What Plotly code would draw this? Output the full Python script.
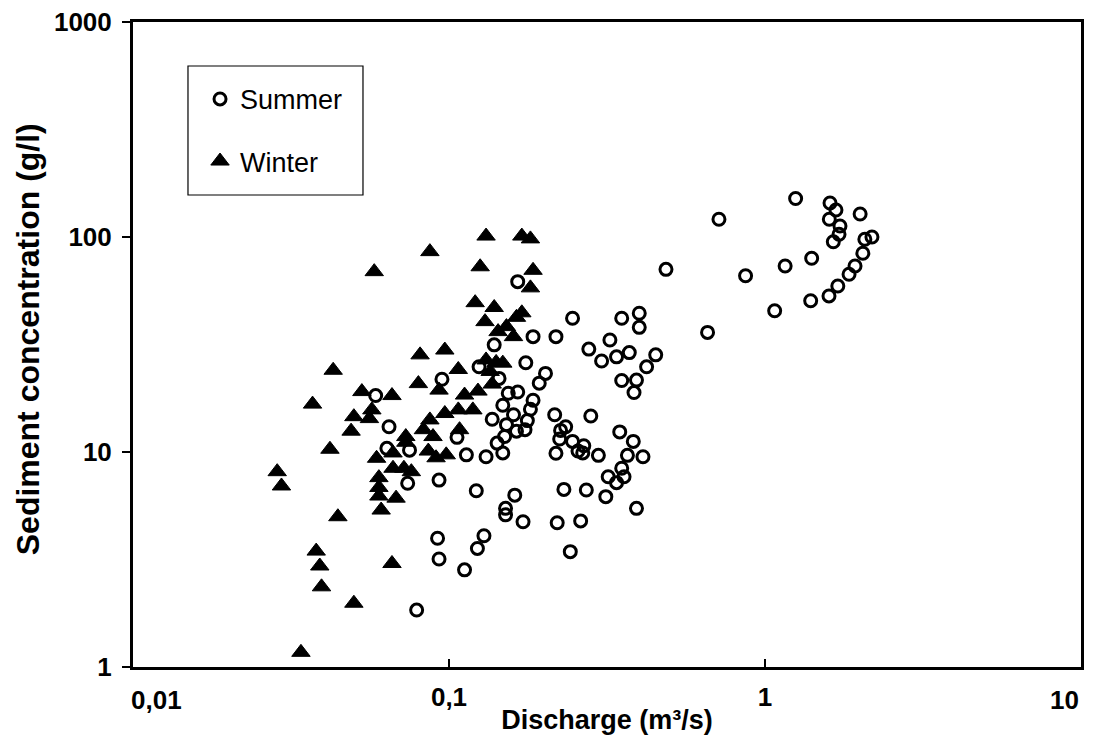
import math
import plotly.graph_objects as go

# Summer (open circles)
summer_q = [0.0586, 0.0646, 0.0636, 0.075, 0.074, 0.093, 0.095, 0.106, 0.1135, 0.131,
            0.148, 0.122, 0.092, 0.093, 0.129, 0.123, 0.112, 0.079, 0.1615, 0.151,
            0.151, 0.1715, 0.165, 0.1245, 0.139, 0.144, 0.1845, 0.218, 0.246, 0.175,
            0.202, 0.193, 0.154, 0.165, 0.148, 0.1845, 0.181, 0.160, 0.137, 0.177,
            0.152, 0.1635, 0.174, 0.150, 0.142, 0.216, 0.281, 0.2255, 0.234, 0.224,
            0.246, 0.267, 0.265, 0.218, 0.256, 0.297, 0.347, 0.383, 0.367, 0.411,
            0.352, 0.319, 0.339, 0.358, 0.3135, 0.392, 0.231, 0.272, 0.220, 0.261,
            0.242, 0.352, 0.400, 0.400, 0.323, 0.277, 0.304, 0.339, 0.372, 0.451,
            0.422, 0.352, 0.392, 0.385, 0.486, 0.658, 0.715, 0.868, 1.073, 1.158,
            1.25, 1.395, 1.405, 1.594, 1.70, 1.845, 1.927, 2.04, 2.07, 2.18,
            1.606, 1.677, 1.598, 1.727, 1.715, 1.645, 2.0]
summer_c = [18.3, 13.1, 10.4, 10.2, 7.15, 7.4, 21.8, 11.7, 9.7, 9.5,
            9.9, 6.6, 3.97, 3.18, 4.08, 3.56, 2.83, 1.84, 6.3, 5.47,
            5.1, 4.74, 62, 24.9, 31.5, 22, 34.4, 34.4, 41.9, 26,
            23.2, 20.9, 18.75, 19.0, 16.5, 17.4, 15.8, 14.9, 14.2, 14.0,
            13.4, 12.5, 12.7, 11.8, 11.0, 14.9, 14.7, 12.6, 13.1, 11.5,
            11.2, 10.7, 9.9, 9.86, 10.1, 9.65, 12.4, 11.2, 9.65, 9.5,
            8.4, 7.67, 7.2, 7.67, 6.2, 5.47, 6.7, 6.66, 4.69, 4.78,
            3.44, 41.9, 44.2, 38.0, 33.2, 30.1, 26.5, 27.7, 29.0, 28.3,
            24.9, 21.5, 21.6, 18.9, 70.7, 36, 121, 66, 45.4, 73.3,
            151, 50.5, 79.6, 53.2, 59.2, 67.1, 73.3, 84, 97.6, 100,
            144, 133.5, 121, 112.5, 103, 95, 128]

# Winter (filled triangles)
winter_q = [0.058, 0.043, 0.037, 0.053, 0.066, 0.057, 0.050, 0.056, 0.049, 0.042,
            0.0286, 0.0295, 0.0445, 0.038, 0.039, 0.0395, 0.050, 0.034, 0.059, 0.0665,
            0.060, 0.060, 0.060, 0.068, 0.061, 0.066, 0.131, 0.170, 0.181, 0.087,
            0.1255, 0.1845, 0.181, 0.121, 0.139, 0.130, 0.170, 0.1635, 0.152, 0.143,
            0.160, 0.081, 0.097, 0.107, 0.131, 0.141, 0.148, 0.135, 0.093, 0.080,
            0.137, 0.1235, 0.112, 0.107, 0.119, 0.097, 0.087, 0.083, 0.073, 0.089,
            0.108, 0.086, 0.091, 0.098, 0.0665, 0.073, 0.072, 0.076]
winter_c = [69, 24, 16.7, 19.1, 18.3, 15.7, 14.6, 14.3, 12.5, 10.3,
            8.1, 6.95, 5.0, 3.46, 2.95, 2.36, 1.98, 1.17, 9.35, 8.4,
            7.6, 6.84, 6.24, 6.1, 5.37, 3.03, 101, 101, 98, 85.5,
            72.7, 70, 58, 49.5, 47, 40.4, 44.4, 42.3, 38.3, 36.3,
            34.4, 28.3, 29.8, 24.2, 26.8, 26.1, 25.9, 23.7, 19.4, 20.8,
            20.7, 19.2, 18.4, 15.7, 15.7, 15.1, 14.1, 12.7, 11.8, 11.8,
            12.7, 10.1, 9.4, 9.7, 9.9, 11.1, 8.4, 8.1]

x_ticks = [0.01, 0.1, 1, 10]
x_ticktext = ["0,01", "0,1", "1", "10"]
y_ticks = [1, 10, 100, 1000]
y_ticktext = ["1", "10", "100", "1000"]

FONT = "Liberation Sans, Arial, sans-serif"
TICKFONT = dict(family=FONT, size=26, weight="bold", color="black")

fig = go.Figure()
fig.add_trace(go.Scatter(
    x=summer_q, y=summer_c, mode="markers", name="Summer", legendgroup="s",
    marker=dict(symbol="circle-open", size=12, color="black", line=dict(width=3, color="black")),
))
fig.add_trace(go.Scatter(
    x=winter_q, y=winter_c, mode="markers", name="Winter", legendgroup="w",
    marker=dict(symbol="triangle-up", size=16, color="black", line=dict(width=1, color="black")),
))

# inner tick labels drawn by the axis; the two end labels are placed inside the axis span
inner_text = [t if 0 < i < len(x_ticktext) - 1 else "" for i, t in enumerate(x_ticktext)]
end_labels = [
    dict(x=math.log10(x_ticks[0]), y=0, xref="x", yref="paper", text=x_ticktext[0],
         xanchor="left", yanchor="top", xshift=-4, yshift=-16, showarrow=False, font=TICKFONT),
    dict(x=math.log10(x_ticks[-1]), y=0, xref="x", yref="paper", text=x_ticktext[-1],
         xanchor="right", yanchor="top", xshift=0, yshift=-16, showarrow=False, font=TICKFONT),
    dict(x=-0.1105, y=0.5085, xref="paper", yref="paper", text="Sediment concentration (g/l)",
         textangle=-90, xanchor="center", yanchor="middle", showarrow=False,
         font=dict(family=FONT, size=32, weight="bold", color="black")),
]

fig.update_layout(
    width=1081, height=727,
    margin=dict(l=125, r=8, t=14, b=68, autoexpand=False),
    paper_bgcolor="white", plot_bgcolor="white",
    font=dict(family=FONT, color="black", size=27),
    showlegend=True,
    legend=dict(
        x=0.0707, y=0.918, xanchor="left", yanchor="top",
        bgcolor="rgba(0,0,0,0)", borderwidth=0,
        font=dict(family=FONT, size=27, color="black"),
        tracegroupgap=24, itemwidth=30,
    ),
    xaxis=dict(
        type="log", range=[-2, 1], tickvals=x_ticks, ticktext=inner_text,
        automargin=False,
        showgrid=False, zeroline=False, showline=True, linecolor="black", linewidth=3,
        mirror=True,
        ticks="inside", ticklen=8, tickwidth=1.5, tickcolor="black",
        tickfont=TICKFONT, ticklabeloverflow="allow",
        ticklabelstandoff=5,
        title=dict(text="Discharge (m³/s)", font=dict(family=FONT, size=27, weight="bold"), standoff=1),
    ),
    yaxis=dict(
        type="log", range=[0, 3], tickvals=y_ticks, ticktext=y_ticktext,
        automargin=False,
        showgrid=False, zeroline=False, showline=True, linecolor="black", linewidth=3,
        mirror=True,
        ticks="outside", ticklen=8, tickwidth=1.5, tickcolor="black",
        tickfont=TICKFONT, ticklabeloverflow="allow",
        ticklabelstandoff=5,
    ),
    annotations=end_labels,
    shapes=[
        dict(type="rect", xref="paper", yref="paper", x0=0.058, y0=0.7318, x1=0.2426, y1=0.9318,
             line=dict(color="black", width=1.2), fillcolor="rgba(0,0,0,0)", layer="above"),
    ],
)

fig.write_html("out.html")
